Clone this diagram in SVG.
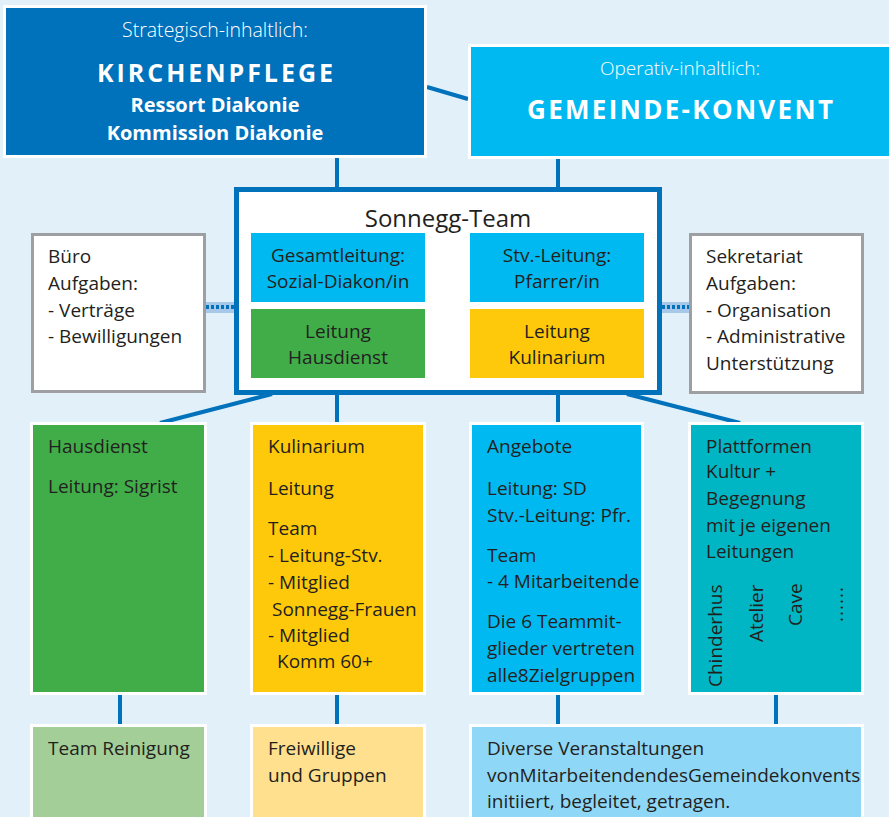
<svg xmlns="http://www.w3.org/2000/svg" width="889" height="817" viewBox="0 0 889 817">
<style>
text{font-family:"Open Sans","Noto Sans","Liberation Sans",sans-serif;font-size:19px;fill:#231F20}
.w{fill:#fff}
.c{text-anchor:middle}
.b{font-weight:bold}
.con{stroke:#0071BB;stroke-width:4;fill:none}
.wb{stroke:#fff;stroke-width:3}
.gb{fill:#fff;stroke:#9D9FA2;stroke-width:3}
</style>
<rect x="0" y="0" width="889" height="817" fill="#E1F0F9"/>
<g id="connectors">
<line class="con" x1="427" y1="87" x2="468" y2="99"/>
<line class="con" x1="337" y1="158" x2="337" y2="188"/>
<line class="con" x1="558" y1="159" x2="558" y2="188"/>
<line class="con" x1="272" y1="394" x2="160" y2="423"/>
<line class="con" x1="337" y1="395" x2="337" y2="423"/>
<line class="con" x1="558" y1="395" x2="558" y2="423"/>
<line class="con" x1="627" y1="394" x2="740" y2="423"/>
<line class="con" x1="120" y1="695" x2="120" y2="725"/>
<line class="con" x1="337" y1="695" x2="337" y2="725"/>
<line class="con" x1="558" y1="695" x2="558" y2="725"/>
<line class="con" x1="776" y1="695" x2="776" y2="725"/>
<rect x="206" y="302" width="28" height="11" fill="#A8C8EA"/>
<line x1="206" y1="307" x2="234" y2="307" stroke="#0071BB" stroke-width="4" stroke-dasharray="3 2"/>
<rect x="662" y="302" width="27" height="11" fill="#A8C8EA"/>
<line x1="662" y1="307" x2="689" y2="307" stroke="#0071BB" stroke-width="4" stroke-dasharray="3 2"/>
</g>
<g id="kirchenpflege">
<rect class="wb" x="4.5" y="6.5" width="421" height="150" fill="#0071BB"/>
<text class="w c" x="215" y="37" style="font-size:19.5px;font-weight:300">Strategisch-inhaltlich:</text>
<text class="w c b" x="215" y="82" style="font-size:25px" textLength="236">KIRCHENPFLEGE</text>
<text class="w c b" x="215" y="112" style="font-size:20px">Ressort Diakonie</text>
<text class="w c b" x="215" y="140" style="font-size:20px">Kommission Diakonie</text>
</g>
<g id="gemeindekonvent">
<rect class="wb" x="469.5" y="45.5" width="421" height="112" fill="#00B9F1"/>
<text class="w c" x="680" y="75" style="font-size:19px;font-weight:300">Operativ-inhaltlich:</text>
<text class="w c b" x="680" y="119" style="font-size:26px" textLength="306">GEMEINDE-KONVENT</text>
</g>
<g id="sonnegg-team">
<rect x="236.5" y="189.5" width="423" height="203" fill="#fff" stroke="#0071BB" stroke-width="5"/>
<text class="c" x="448" y="227" style="font-size:24px">Sonnegg-Team</text>
<g id="gesamtleitung">
<rect x="251" y="233" width="174" height="69" fill="#00B9F1"/>
<text class="c" x="338" y="262">Gesamtleitung:</text>
<text class="c" x="338" y="288">Sozial-Diakon/in</text>
</g>
<g id="stv-leitung">
<rect x="470" y="233" width="174" height="69" fill="#00B9F1"/>
<text class="c" x="557" y="262">Stv.-Leitung:</text>
<text class="c" x="557" y="288">Pfarrer/in</text>
</g>
<g id="leitung-hausdienst">
<rect x="251" y="309" width="174" height="69" fill="#41AD49"/>
<text class="c" x="338" y="338">Leitung</text>
<text class="c" x="338" y="364">Hausdienst</text>
</g>
<g id="leitung-kulinarium">
<rect x="470" y="309" width="174" height="69" fill="#FFC90B"/>
<text class="c" x="557" y="338">Leitung</text>
<text class="c" x="557" y="364">Kulinarium</text>
</g>
</g>
<g id="buero">
<rect class="gb" x="32.5" y="234.5" width="172" height="157"/>
<text x="48" y="263">Büro</text>
<text x="48" y="290">Aufgaben:</text>
<text x="48" y="317">- Verträge</text>
<text x="48" y="343">- Bewilligungen</text>
</g>
<g id="sekretariat">
<rect class="gb" x="690.5" y="234.5" width="172" height="158"/>
<text x="706" y="263">Sekretariat</text>
<text x="706" y="290">Aufgaben:</text>
<text x="706" y="317">- Organisation</text>
<text x="706" y="343">- Administrative</text>
<text x="706" y="370">Unterstützung</text>
</g>
<g id="hausdienst">
<rect class="wb" x="31.5" y="423.5" width="174" height="270" fill="#41AD49"/>
<text x="48" y="453">Hausdienst</text>
<text x="48" y="493">Leitung: Sigrist</text>
</g>
<g id="kulinarium">
<rect class="wb" x="251.5" y="423.5" width="173" height="270" fill="#FFC90B"/>
<text x="268" y="453">Kulinarium</text>
<text x="268" y="495">Leitung</text>
<text x="268" y="535">Team</text>
<text x="268" y="562">- Leitung-Stv.</text>
<text x="268" y="589">- Mitglied</text>
<text x="272" y="616">Sonnegg-Frauen</text>
<text x="268" y="642">- Mitglied</text>
<text x="277" y="668">Komm 60+</text>
</g>
<g id="angebote">
<rect class="wb" x="470.5" y="423.5" width="172" height="270" fill="#00B9F1"/>
<text x="487" y="453">Angebote</text>
<text x="487" y="495">Leitung: SD</text>
<text x="487" y="522">Stv.-Leitung: Pfr.</text>
<text x="487" y="562">Team</text>
<text x="487" y="588">- 4 Mitarbeitende</text>
<text x="487" y="628">Die 6 Teammit-</text>
<text x="487" y="655">glieder vertreten</text>
<text x="487" y="682">alle8Zielgruppen</text>
</g>
<g id="plattformen">
<rect class="wb" x="689.5" y="423.5" width="173" height="270" fill="#00B6C4"/>
<text x="706" y="453">Plattformen</text>
<text x="706" y="478">Kultur +</text>
<text x="706" y="505">Begegnung</text>
<text x="706" y="532">mit je eigenen</text>
<text x="706" y="558">Leitungen</text>
<text transform="translate(722,687) rotate(-90)">Chinderhus</text>
<text transform="translate(763,642) rotate(-90)">Atelier</text>
<text transform="translate(802,626) rotate(-90)">Cave</text>
<text transform="translate(843,622) rotate(-90)" style="letter-spacing:1px">......</text>
</g>
<g id="team-reinigung">
<rect class="wb" x="31.5" y="725.5" width="174" height="120" fill="#A4CE98"/>
<text x="48" y="755">Team Reinigung</text>
</g>
<g id="freiwillige">
<rect class="wb" x="251.5" y="725.5" width="173" height="120" fill="#FFE08E"/>
<text x="268" y="755">Freiwillige</text>
<text x="268" y="782">und Gruppen</text>
</g>
<g id="veranstaltungen">
<rect class="wb" x="470.5" y="725.5" width="392" height="120" fill="#8FD7F6"/>
<text x="487" y="755">Diverse Veranstaltungen</text>
<text x="487" y="782">vonMitarbeitendendesGemeindekonvents</text>
<text x="487" y="808">initiiert, begleitet, getragen.</text>
</g>
</svg>
